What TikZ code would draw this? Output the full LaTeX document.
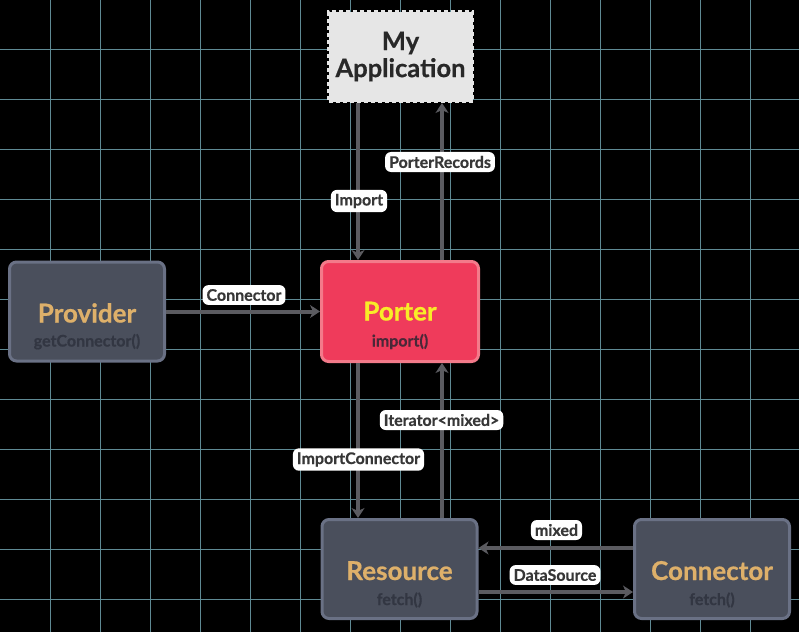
\documentclass[tikz,border=0pt]{standalone}
\usepackage{fontspec}
\setmainfont{Lato}[BoldFeatures={FakeBold=0.6}]
\usetikzlibrary{arrows.meta}
\definecolor{gridc}{RGB}{95,138,148}
\definecolor{slatefill}{RGB}{74,79,92}
\definecolor{slateborder}{RGB}{106,113,133}
\definecolor{porterfill}{RGB}{239,59,91}
\definecolor{porterborder}{RGB}{243,122,138}
\definecolor{appfill}{RGB}{230,230,230}
\definecolor{goldtxt}{RGB}{222,176,106}
\definecolor{yellowtxt}{RGB}{248,236,40}
\definecolor{subtxt}{RGB}{50,54,66}
\definecolor{portersub}{RGB}{74,40,56}
\definecolor{arrowc}{RGB}{91,91,96}
\definecolor{labeltxt}{RGB}{55,55,55}
\definecolor{apptxt}{RGB}{40,40,40}
\tikzset{
  gridline/.style={draw=gridc, line width=0.7pt},
  slatebox/.style={draw=slateborder, fill=slatefill, line width=3pt, rounded corners=7pt, minimum width=155pt, minimum height=99pt, inner sep=0pt},
  porterbox/.style={draw=porterborder, fill=porterfill, line width=3pt, rounded corners=7pt, minimum width=157pt, minimum height=100pt, inner sep=0pt},
  appbox/.style={draw=appfill, fill=appfill, line width=3pt, dash pattern=on 4pt off 3pt, minimum width=144pt, minimum height=90pt, inner sep=0pt, align=center, text=apptxt, font=\bfseries\fontsize{25.5}{27}\selectfont},
  titletxt/.style={anchor=base, inner sep=0pt, font=\bfseries\fontsize{26}{28}\selectfont},
  subtitletxt/.style={anchor=base, inner sep=0pt, font=\bfseries\fontsize{16}{18}\selectfont},
  arr/.style={draw=arrowc, line width=4pt, -{Stealth[length=10pt, width=13pt, inset=3pt]}},
  lbl/.style={fill=white, text=labeltxt, rounded corners=6pt, inner xsep=4pt, inner ysep=4pt, font=\bfseries\fontsize{16}{18}\selectfont}
}
\begin{document}
\begin{tikzpicture}[x=1pt,y=-1pt]
\fill[black] (0,0) rectangle (799,632);
\useasboundingbox (0,0) rectangle (799,632);
\foreach \x in {50,100,...,750} \draw[gridline] (\x,0) -- (\x,632);
\foreach \y in {49,99,...,599} \draw[gridline] (0,\y) -- (799,\y);

% boxes
\node[appbox] (app) at (400.5,56.5) {My\\Application};
\node[slatebox] (provider) at (87,311.5) {};
\node[porterbox] (porter) at (400,311.5) {};
\node[slatebox] (resource) at (399.5,569) {};
\node[slatebox] (connector) at (712,569) {};

% texts inside boxes
\node[titletxt, text=goldtxt] (providert) at ([yshift=-11pt]provider.center) {Provider};
\node[subtitletxt, text=subtxt] (providers) at ([yshift=-35pt]provider.center) {getConnector()};
\node[titletxt, text=yellowtxt] (portert) at ([yshift=-9pt]porter.center) {Porter};
\node[subtitletxt, text=portersub] (porters) at ([yshift=-35pt]porter.center) {import()};
\node[titletxt, text=goldtxt] (resourcet) at ([yshift=-11pt]resource.center) {Resource};
\node[subtitletxt, text=subtxt] (resources) at ([yshift=-36pt]resource.center) {fetch()};
\node[titletxt, text=goldtxt] (connectort) at ([yshift=-11pt]connector.center) {Connector};
\node[subtitletxt, text=subtxt] (connectors) at ([yshift=-36pt]connector.center) {fetch()};

% connectors
\draw[arr] ([xshift=-42.5pt]app.south) -- ([xshift=-42pt]porter.north);
\draw[arr] ([xshift=42pt]porter.north) -- ([xshift=41.5pt]app.south);
\draw[arr] (provider.east) -- (porter.west);
\draw[arr] ([xshift=-42pt]porter.south) -- ([xshift=-41.5pt]resource.north);
\draw[arr] ([xshift=42.5pt]resource.north) -- ([xshift=42pt]porter.south);
\draw[arr] ([yshift=21pt]connector.west) -- ([yshift=21pt]resource.east);
\draw[arr] ([yshift=-23pt]resource.east) -- ([yshift=-23pt]connector.west);

% labels
\node[lbl] (limport) at (359,201) {Import};
\node[lbl] (lrecords) at (440,162) {PorterRecords};
\node[lbl] (lconn) at (244,295) {Connector};
\node[lbl] (limpconn) at (358.5,459.5) {ImportConnector};
\node[lbl] (liter) at (441.5,420) {Iterator<mixed>};
\node[lbl] (lmixed) at (556.5,530) {mixed};
\node[lbl] (ldata) at (555,575) {DataSource};
\end{tikzpicture}
\end{document}
